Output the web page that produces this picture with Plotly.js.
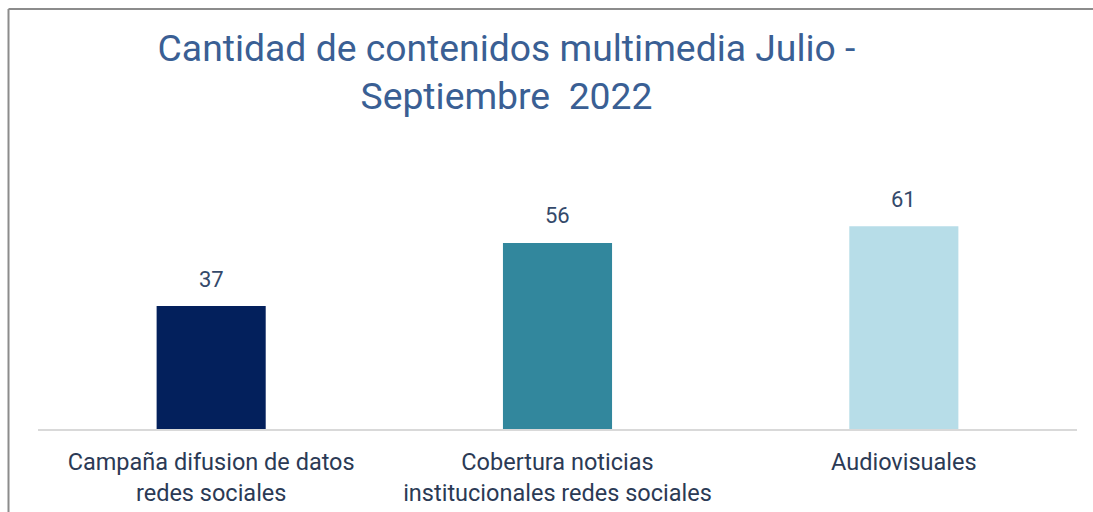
<!DOCTYPE html>
<html>
<head>
<meta charset="utf-8">
<script src="https://cdn.plot.ly/plotly-3.0.1.min.js"></script>
<style>
  html, body { margin: 0; padding: 0; background: #ffffff; }
  #chart { width: 1093px; height: 512px; }
</style>
</head>
<body>
<div id="chart"></div>
<script>
const categories = ["Campaña difusion de datos redes sociales", "Cobertura noticias institucionales redes sociales", "Audiovisuales"];
const tickLabels = ["Campaña difusion de datos<br>redes sociales", "Cobertura noticias<br>institucionales redes sociales", "Audiovisuales"];
const values = [37, 56, 61];
const barColors = ["#03205c", "#32879d", "#b7dde8"];
const titleText = "Cantidad de contenidos multimedia Julio -<br>Septiembre\u00a0\u00a02022";

const trace = {
  type: "bar",
  x: categories,
  y: values,
  width: 0.315,
  marker: { color: barColors, line: { width: 0 } },
  hoverinfo: "skip"
};

const labelAnnotations = categories.map((c, i) => ({
  x: c, y: values[i], xref: "x", yref: "y",
  text: String(values[i]),
  showarrow: false,
  yanchor: "middle",
  yshift: 27,
  font: { family: "Roboto, sans-serif", size: 22, color: "#34496a" }
}));

const layout = {
  width: 1093, height: 512,
  margin: { l: 38, r: 16, t: 130, b: 83 },
  paper_bgcolor: "#ffffff",
  plot_bgcolor: "#ffffff",
  showlegend: false,
  title: {
    text: titleText,
    xref: "container", yref: "container",
    x: 0.4634, y: 1 - 61 / 512,
    xanchor: "center", yanchor: "middle",
    font: { family: "Roboto, sans-serif", size: 37.3, color: "#3a5f94" }
  },
  xaxis: {
    type: "category",
    tickvals: categories,
    ticktext: tickLabels,
    showline: true, linecolor: "#d9d9d9", linewidth: 2,
    showgrid: false, zeroline: false, ticks: "",
    ticklabelstandoff: 11,
    tickfont: { family: "Roboto, sans-serif", size: 23.5, color: "#2b3a55" },
    fixedrange: true
  },
  yaxis: {
    range: [0, 90],
    visible: false,
    showgrid: false, zeroline: false,
    fixedrange: true
  },
  annotations: labelAnnotations,
  shapes: [
    { type: "line", xref: "paper", yref: "paper",
      x0: (8.5 - 38) / 1039, x1: 1.05, y0: (429 - 9) / 299, y1: (429 - 9) / 299,
      line: { color: "#8c8c8c", width: 2 } },
    { type: "line", xref: "paper", yref: "paper",
      x0: (8.5 - 38) / 1039, x1: (8.5 - 38) / 1039, y0: (429 - 9) / 299, y1: -0.35,
      line: { color: "#8c8c8c", width: 2 } }
  ]
};

Plotly.newPlot("chart", [trace], layout, { displayModeBar: false, staticPlot: true });
</script>
</body>
</html>
